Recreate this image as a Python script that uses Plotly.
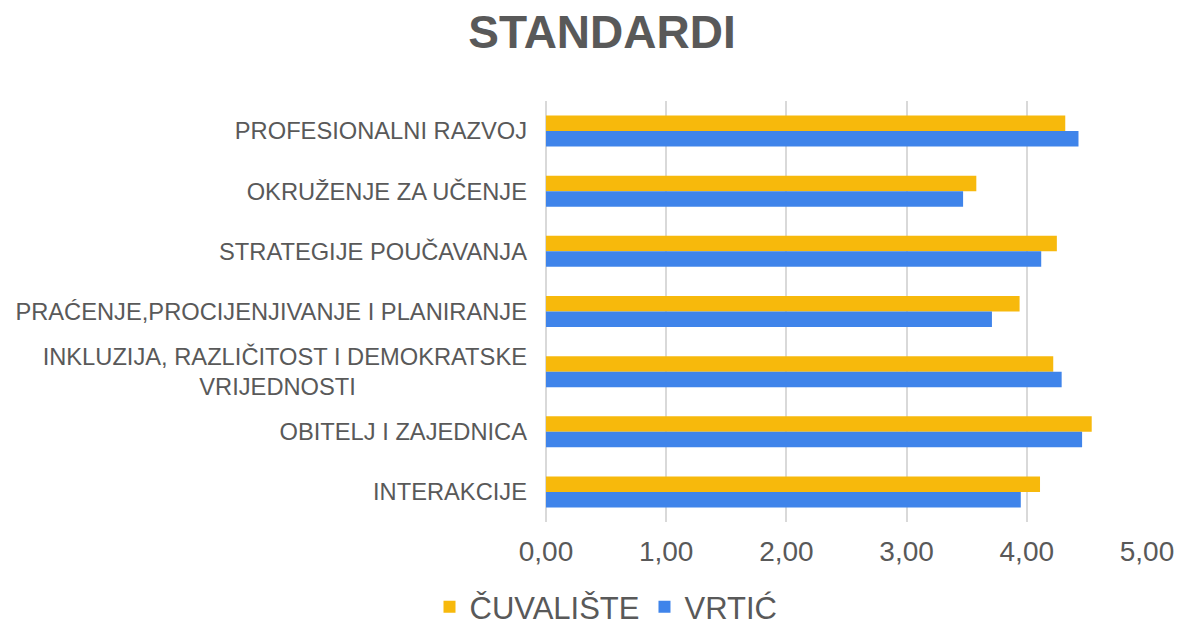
import plotly.graph_objects as go

NBSP = "\u00a0"

categories = [
    "PROFESIONALNI RAZVOJ",
    "OKRUŽENJE ZA UČENJE",
    "STRATEGIJE POUČAVANJA",
    "PRAĆENJE,PROCIJENJIVANJE I PLANIRANJE",
    "INKLUZIJA, RAZLIČITOST I DEMOKRATSKE<br>VRIJEDNOSTI" + NBSP * 26,
    "OBITELJ I ZAJEDNICA",
    "INTERAKCIJE",
]
cuvaliste = [4.32, 3.58, 4.25, 3.94, 4.22, 4.54, 4.11]
vrtic = [4.43, 3.47, 4.12, 3.71, 4.29, 4.46, 3.95]
x_ticks = [0, 1, 2, 3, 4, 5]

FONT = "Liberation Sans, Arial, sans-serif"
GREY = "#595959"

W, H = 1186, 634

fig = go.Figure()
fig.add_trace(go.Bar(y=categories, x=cuvaliste, name="ČUVALIŠTE", orientation="h",
                     marker=dict(color="#F7B90C", line=dict(width=0))))
fig.add_trace(go.Bar(y=categories, x=vrtic, name="VRTIĆ", orientation="h",
                     marker=dict(color="#3F84EA", line=dict(width=0))))

fig.update_layout(
    width=W, height=H,
    paper_bgcolor="white", plot_bgcolor="white",
    margin=dict(l=546, r=36, t=101, b=112),
    barmode="group", bargap=0.485, bargroupgap=0,
    separators=",.",
    font=dict(family=FONT, color=GREY),
    title=dict(text="STANDARDI", x=602 / W, xanchor="center", y=1 - 32 / H, yanchor="middle",
               font=dict(size=46, family=FONT, color=GREY, weight="bold")),
    legend=dict(orientation="h", xref="container", yref="container",
                x=606 / W, xanchor="center", y=-0.012, yanchor="bottom",
                traceorder="normal", font=dict(size=31, color=GREY, family=FONT),
                itemwidth=30),
    showlegend=True,
)
fig.update_xaxes(range=[0, 5], tickvals=x_ticks, tickformat=".2f",
                 showgrid=True, gridcolor="#D9D9D9", gridwidth=1.5,
                 zeroline=True, zerolinecolor="#D9D9D9", zerolinewidth=1.5,
                 showline=False, ticks="", ticklabelstandoff=10,
                 tickfont=dict(size=28, color=GREY, family=FONT))
fig.update_yaxes(autorange="reversed", showgrid=False, zeroline=False, showline=False,
                 ticks="", ticklabelstandoff=18,
                 tickfont=dict(size=23.7, color=GREY, family=FONT))

# remove the default page margin so the figure fills the window exactly
fig.write_html("out.html", config={"displayModeBar": False},
               post_script="document.body.style.margin='0';document.body.style.overflow='hidden';")
